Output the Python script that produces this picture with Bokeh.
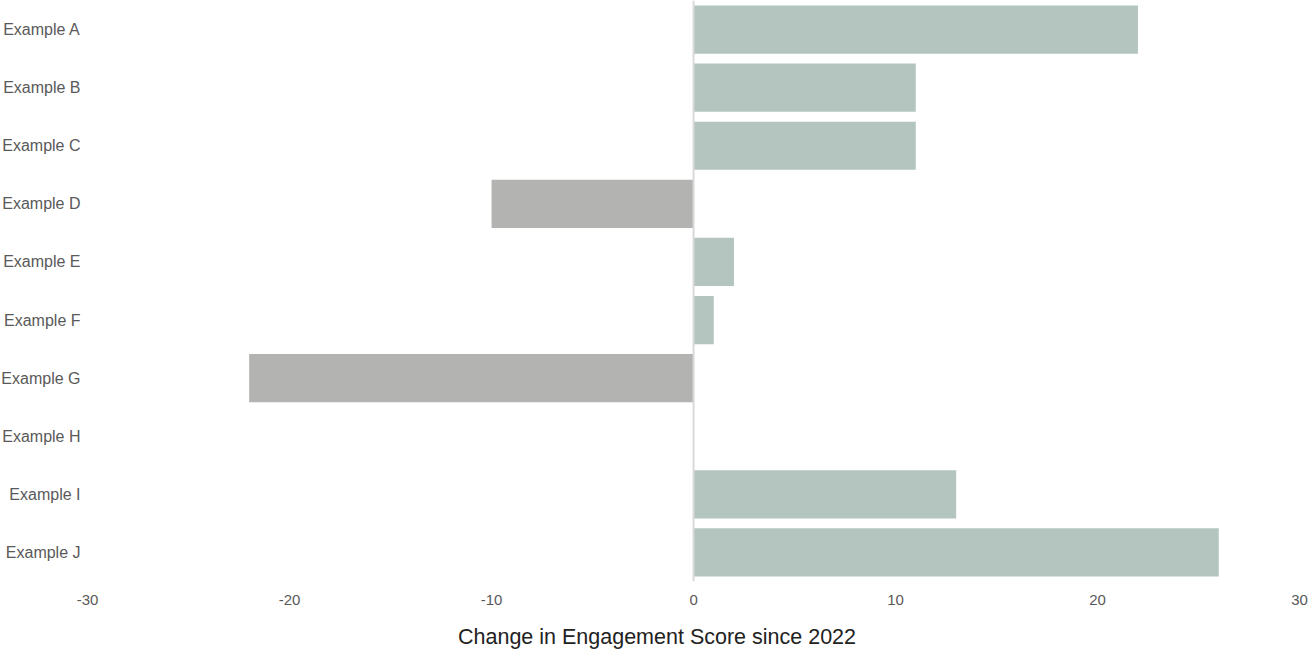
from bokeh.plotting import figure
from bokeh.models import ColumnDataSource, FactorRange, FixedTicker, Range1d, Span
from bokeh.embed import file_html
from bokeh.resources import INLINE
from bokeh.core.properties import value

categories = ["Example A", "Example B", "Example C", "Example D", "Example E",
              "Example F", "Example G", "Example H", "Example I", "Example J"]
changes = [22, 11, 11, -10, 2, 1, -22, 0, 13, 26]
x_ticks = [-30, -20, -10, 0, 10, 20, 30]
axis_title = "Change in Engagement Score since 2022"

POS = "#b3c5be"
NEG = "#b3b4b2"
colors = [POS if v >= 0 else NEG for v in changes]

W, H = 1313, 651
x_start, x_end = -34.31, 30.69

src = ColumnDataSource(dict(cat=categories, val=changes, color=colors,
                            lx=[x_start] * len(categories)))

p = figure(width=W, height=H, output_backend="svg", toolbar_location=None,
           y_range=FactorRange(*reversed(categories), range_padding=0),
           x_range=Range1d(x_start, x_end),
           min_border_left=0, min_border_right=0, min_border_top=0,
           min_border_bottom=0)

p.hbar(y="cat", left=0, right="val", height=0.83, color="color",
       line_color=None, source=src)

p.add_layout(Span(location=0, dimension="height", line_color="#d9d9d9",
                  line_width=2))

p.text(x="lx", y="cat", text="cat", source=src, x_offset=80,
       text_align="right", text_baseline="middle",
       text_font=value("Liberation Sans"), text_font_size="16px",
       text_color="#595959")

p.yaxis.visible = False
p.xgrid.visible = False
p.ygrid.visible = False
p.outline_line_color = None

xa = p.xaxis[0]
xa.ticker = FixedTicker(ticks=x_ticks)
xa.major_label_overrides = {t: str(t) for t in x_ticks}
xa.axis_line_color = None
xa.major_tick_line_color = None
xa.minor_tick_line_color = None
xa.major_tick_out = 0
xa.major_tick_in = 0
xa.major_label_standoff = 13
xa.major_label_text_font = "Liberation Sans"
xa.major_label_text_font_size = "15px"
xa.major_label_text_color = "#595959"
xa.axis_label = axis_title
xa.axis_label_standoff = 17
xa.axis_label_text_font = "Liberation Sans"
xa.axis_label_text_font_size = "21.5px"
xa.axis_label_text_font_style = "normal"
xa.axis_label_text_color = "#222222"

open("out.html", "w").write(file_html(p, INLINE))
